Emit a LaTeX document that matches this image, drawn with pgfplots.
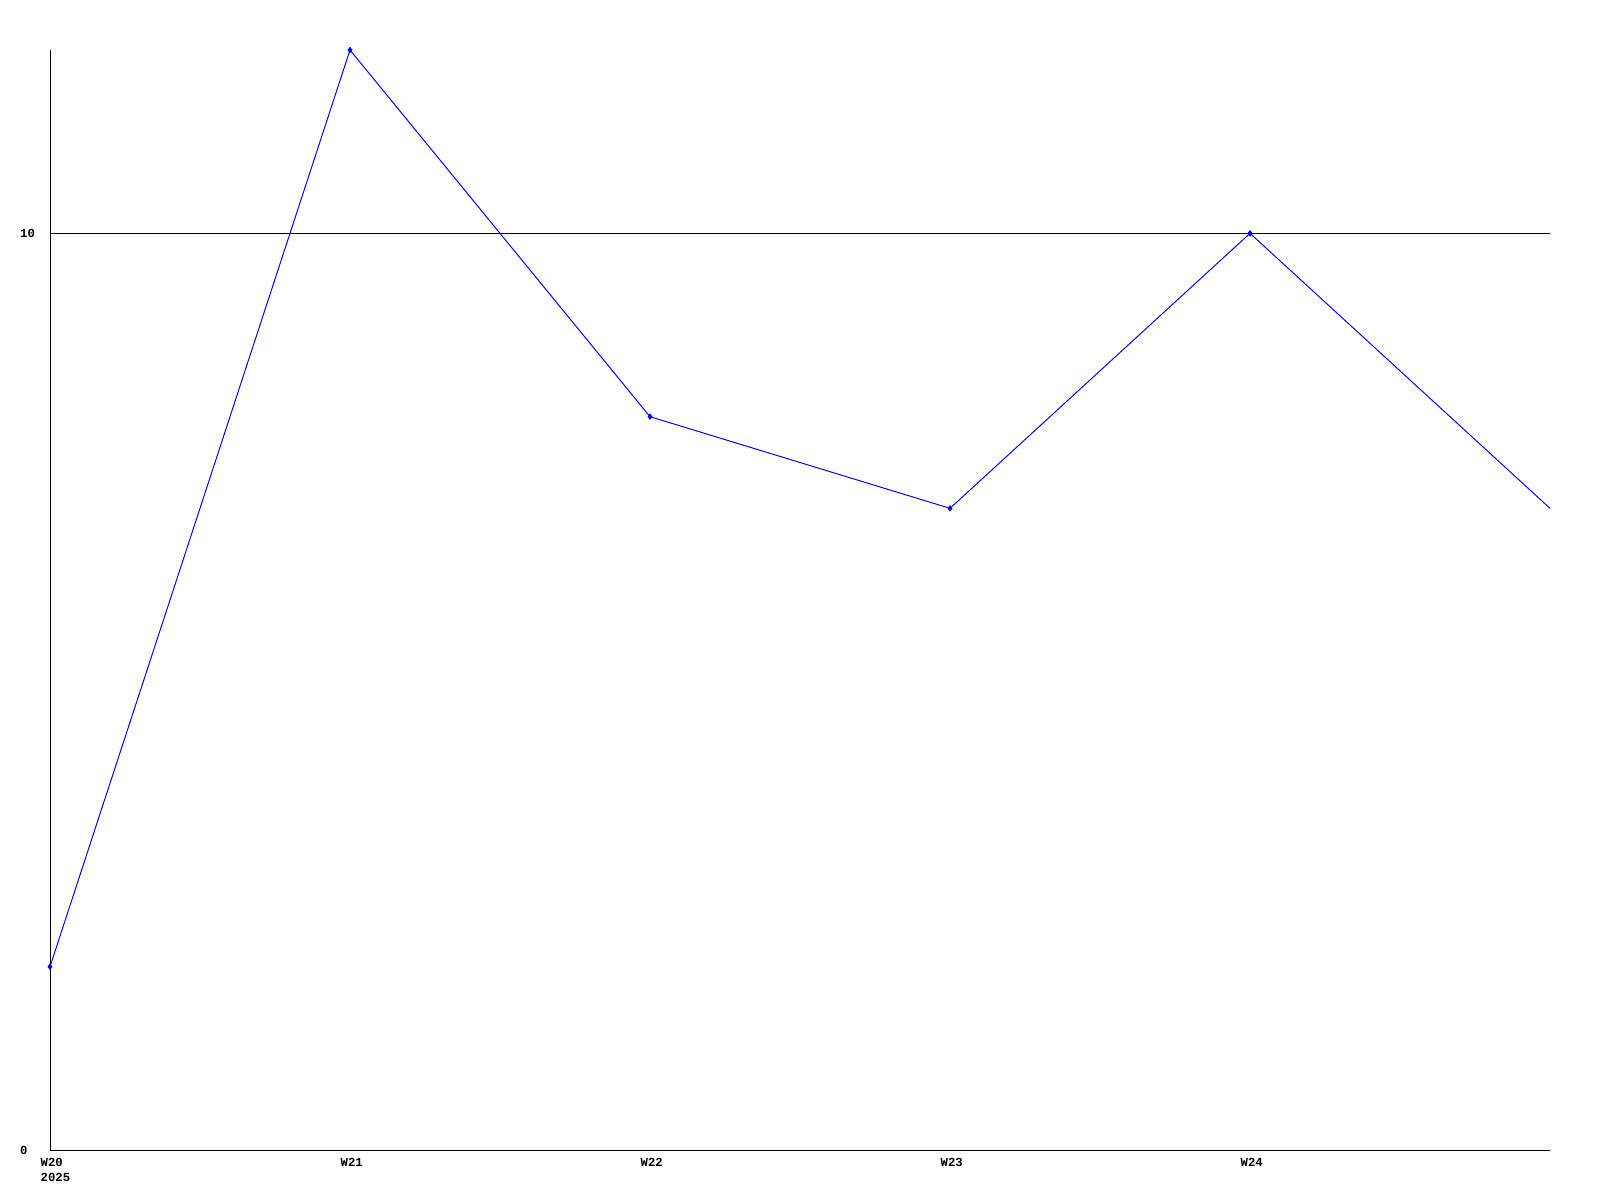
\documentclass[border=0pt]{standalone}
\usepackage{pgfplots}
\pgfplotsset{compat=1.18}
\usepackage{fontspec}
\setmainfont{Liberation Mono}
\begin{document}
\begin{tikzpicture}[x=1cm,y=1cm]
\useasboundingbox[fill=white] (0,0) rectangle (16,12);
\begin{axis}[
  at={(0.5cm,0.5cm)}, anchor=south west,
  scale only axis, width=15cm, height=11cm,
  xmin=0, xmax=5, ymin=0, ymax=12,
  axis x line*=bottom, axis y line*=left,
  axis line style={black, line width=0.28pt, -},
  xtick={0,1,2,3,4},
  xticklabels={{W20\\2025},W21,W22,W23,W24},
  ytick={0,10},
  major tick length=0pt,
  ymajorgrids, grid style={black, line width=0.28pt},
  /pgf/number format/assume math mode=true,
  tick label style={font=\fontsize{3.5pt}{4.4pt}\bfseries\selectfont, inner sep=0pt},
  x tick label style={anchor=north west, align=left, xshift=-1mm, yshift=-0.75mm},
  y tick label style={anchor=west, xshift=-3.05mm},
  clip=false,
]
\addplot[color={rgb,255:red,0;green,0;blue,255}, line width=0.28pt, mark=diamond*, mark size=0.25mm, mark options={solid}, mark indices={1,2,3,4,5}]
  coordinates {(0,2) (1,12) (2,8) (3,7) (4,10) (5,7)};
\end{axis}
\end{tikzpicture}
\end{document}
